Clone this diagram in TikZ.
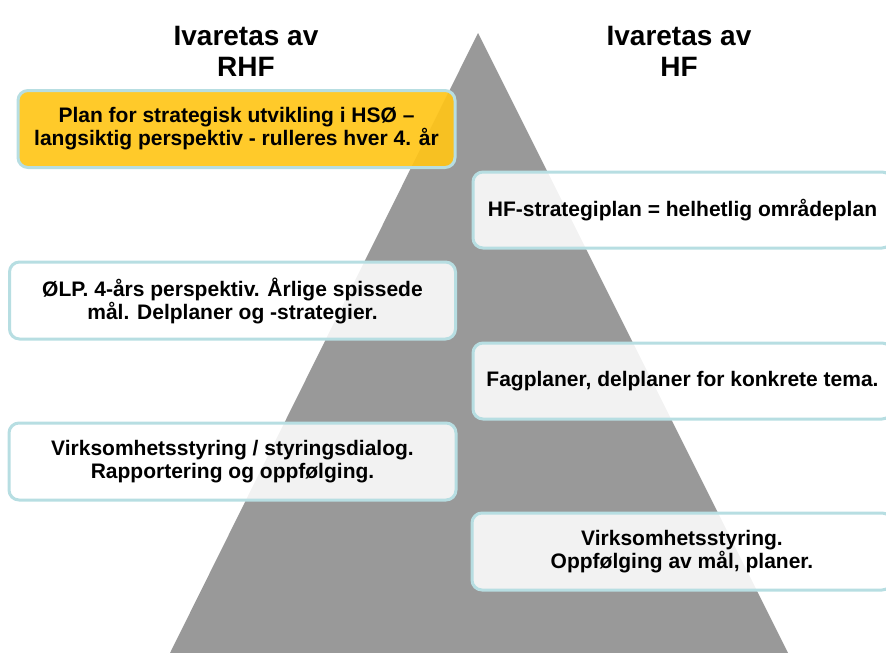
\documentclass[tikz,border=0pt]{standalone}
\usepackage{fontspec}
\setmainfont{Liberation Sans}
\definecolor{pyr}{RGB}{153,153,153}
\definecolor{edgeblue}{RGB}{183,222,226}
\definecolor{gold}{RGB}{255,197,24}
\begin{document}
\begin{tikzpicture}[x=1pt,y=-1pt,
  box/.style={draw=edgeblue, line width=3pt, rounded corners=10pt,
    fill=white, fill opacity=0.88, draw opacity=1, text opacity=1,
    align=center, inner sep=0pt,
    font=\fontsize{21}{23}\selectfont\bfseries},
  goldbox/.style={box, fill=gold, fill opacity=0.92},
  title/.style={align=center, font=\fontsize{28}{31}\selectfont\bfseries}]
\useasboundingbox (0,0) rectangle (886,653);
\fill[pyr] (478,33) -- (788,653) -- (170,653) -- cycle;
\node[title] (t1) at (246,51) {Ivaretas av\\RHF};
\node[title] (t2) at (679,51) {Ivaretas av\\HF};
\node[goldbox, minimum width=437pt, minimum height=77pt] (b1) at (236.5,129) {Plan for strategisk utvikling i HSØ –\\langsiktig perspektiv - rulleres hver 4. år};
\node[box, minimum width=419pt, minimum height=76pt] (b2) at (682.5,210) {HF-strategiplan = helhetlig områdeplan};
\node[box, minimum width=446pt, minimum height=77pt] (b3) at (232.5,300.5) {ØLP. 4-års perspektiv. Årlige spissede\\mål. Delplaner og -strategier.};
\node[box, minimum width=419pt, minimum height=76pt] (b4) at (682.5,381) {Fagplaner, delplaner for konkrete tema.};
\node[box, minimum width=447pt, minimum height=77pt] (b5) at (232.5,461.5) {Virksomhetsstyring / styringsdialog.\\Rapportering og oppfølging.};
\node[box, minimum width=420pt, minimum height=77pt] (b6) at (682,551.5) {Virksomhetsstyring.\\Oppfølging av mål, planer.};
\end{tikzpicture}
\end{document}
